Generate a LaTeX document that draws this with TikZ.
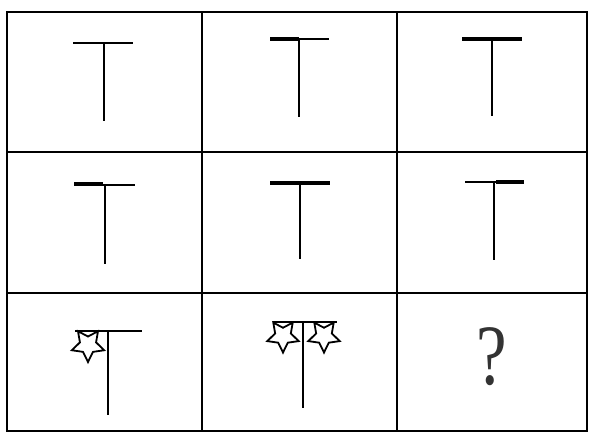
\documentclass[tikz,border=0pt]{standalone}
\usepackage{fontspec}
\newfontfamily\qfont{Liberation Serif}
\usepackage{tikz}
\usetikzlibrary{shapes.geometric}

\begin{document}
\begin{tikzpicture}[
    x=0.5pt, y=-0.5pt,
    gridline/.style={draw, line width=1.2pt},
    thinbar/.style={line width=0.9pt},
    thickbar/.style={line width=2.2pt},
    stem/.style={line width=1pt},
    starfig/.style={draw, star, star points=5, star point ratio=2.0,
                    shape border rotate=180, minimum size=17pt, inner sep=0pt,
                    line width=0.9pt, fill=white},
    qmark/.style={font=\qfont\fontsize{43}{50}\selectfont, text=black!80, xscale=0.8},
]
    \useasboundingbox (0,0) rectangle (589,433);

    % Grid
    \draw[gridline] (7,12) rectangle (587,431);
    \draw[gridline] (202,12) -- (202,431);
    \draw[gridline] (397,12) -- (397,431);
    \draw[gridline] (7,152) -- (587,152);
    \draw[gridline] (7,293) -- (587,293);

    % Row 1
    \draw[stem] (104,43) -- (104,121);
    \draw[thinbar] (73,43) -- (133,43);

    \draw[stem] (299,39) -- (299,117);
    \draw[thickbar] (270,39) -- (299,39);
    \draw[thinbar] (299,39) -- (329,39);

    \draw[stem] (492,39) -- (492,116);
    \draw[thickbar] (462,39) -- (522,39);

    % Row 2
    \draw[stem] (105,185) -- (105,264);
    \draw[thickbar] (74,184) -- (103,184);
    \draw[thinbar] (103,185) -- (135,185);

    \draw[stem] (300,183) -- (300,259);
    \draw[thickbar] (270,183) -- (330,183);

    \draw[stem] (494,182) -- (494,260);
    \draw[thinbar] (465,182) -- (496,182);
    \draw[thickbar] (496,182) -- (524,182);

    % Row 3
    \node[starfig] (star1) at (88,345) {};
    \draw[stem] (108,331) -- (108,415);
    \draw[thinbar] (75,331) -- (142,331);

    \node[starfig, minimum size=16.5pt] (star2) at (283,336) {};
    \node[starfig, minimum size=16.5pt] (star3) at (324,336) {};
    \draw[stem] (303,322) -- (303,408);
    \draw[thinbar] (273,322) -- (337,322);

    \node[qmark] (ask) at (492,357) {?};
\end{tikzpicture}
\end{document}
